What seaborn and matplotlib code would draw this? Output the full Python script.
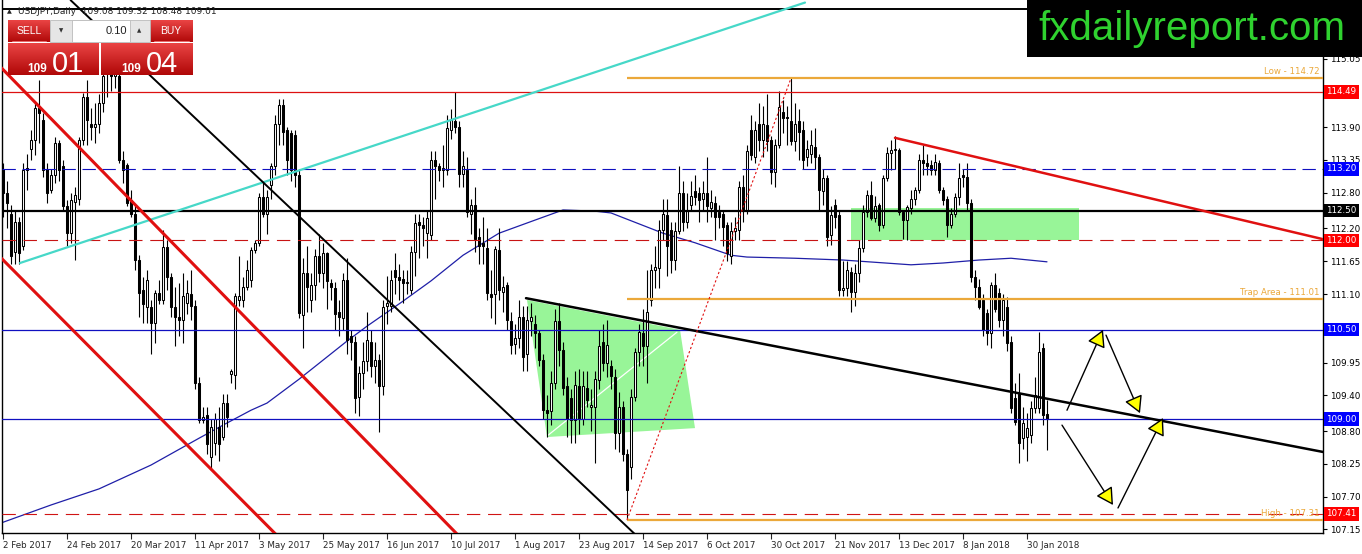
import numpy as np
import matplotlib
matplotlib.use("Agg")
import matplotlib.pyplot as plt
from matplotlib.patches import Rectangle, Polygon
from matplotlib.colors import LinearSegmentedColormap
import seaborn as sns

# ---------------- data (USDJPY daily, bar index 0 = 2 Feb 2017) ----------------
opens = [
    113.2, 112.8, 112.45, 111.8, 112.3, 111.9, 113.22, 113.54, 113.68, 114.22,
    114.02, 113.2, 112.85, 113.1, 113.63, 113.24, 112.57, 112.12, 112.65, 112.7,
    113.68, 114.41, 113.95, 113.9, 113.96, 114.3, 115.0, 114.8, 114.75, 114.75,
    113.35, 113.26, 112.68, 112.45, 111.67, 111.17, 110.89, 110.89, 110.61, 111.11,
    111.0, 111.89, 111.39, 110.89, 110.72, 110.66, 110.95, 111.1, 110.9, 109.6,
    108.99, 109.07, 108.37, 108.6, 108.87, 108.7, 109.27, 109.75, 109.74, 111.0,
    111.0, 111.22, 111.34, 111.84, 111.96, 112.73, 112.45, 112.93, 113.24, 113.96,
    114.27, 113.85, 113.8, 113.77, 113.1, 110.75, 111.45, 111.0, 111.25, 111.73,
    111.45, 111.78, 111.28, 111.2, 110.8, 110.7, 111.33, 110.4, 110.3, 109.38,
    109.77, 109.97, 110.3, 109.9, 110.0, 109.55, 110.9, 110.9, 111.5, 111.39,
    111.36, 111.28, 111.17, 111.81, 112.31, 112.26, 112.12, 112.09, 113.35, 113.24,
    113.18, 113.18, 113.85, 114.0, 113.9, 113.12, 113.18, 112.45, 112.59, 112.06,
    111.95, 111.87, 111.1, 111.1, 111.84, 111.14, 111.25, 110.64, 110.26, 110.36,
    110.72, 110.1, 110.65, 110.6, 110.44, 110.0, 109.15, 109.13, 109.6, 110.64,
    110.16, 109.55, 109.35, 108.99, 109.55, 109.0, 109.52, 109.2, 109.2, 109.66,
    110.3, 109.95, 109.9, 109.7, 108.76, 109.2, 108.42, 108.2, 109.38, 110.13,
    110.44, 110.22, 111.0, 111.5, 111.53, 112.17, 112.42, 112.17, 111.67, 112.15,
    112.8, 112.3, 112.6, 112.83, 112.8, 112.7, 112.8, 112.55, 112.62, 112.48,
    112.45, 112.26, 111.73, 112.15, 112.17, 112.9, 112.5, 113.85, 113.4, 113.95,
    113.68, 113.93, 113.68, 113.15, 113.6, 114.16, 114.07, 114.0, 113.66, 114.0,
    113.85, 113.4, 113.45, 113.57, 113.4, 112.82, 113.04, 112.09, 112.6, 112.43,
    111.17, 111.2, 111.47, 111.14, 111.45, 111.87, 112.48, 112.76, 112.37, 112.6,
    112.26, 113.04, 113.47, 113.52, 113.52, 112.48, 112.34, 112.54, 112.7, 112.84,
    113.35, 113.29, 113.26, 113.18, 113.3, 112.84, 112.7, 112.26, 112.45, 112.73,
    113.1, 113.07, 112.62, 111.39, 111.22, 111.0, 110.78, 110.44, 111.25, 111.11,
    110.66, 110.89, 110.3, 109.35, 109.43, 108.68, 108.7, 108.73, 109.18, 109.18,
    110.19, 109.08,
]
highs = [
    113.3, 113.0, 112.6, 112.51, 112.4, 113.3, 113.45, 113.85, 114.3, 114.69,
    114.13, 113.3, 113.2, 113.74, 113.68, 113.35, 112.68, 112.79, 112.9, 113.74,
    114.47, 114.69, 114.22, 114.3, 114.45, 114.9, 115.5, 115.0, 115.1, 114.9,
    113.5, 113.3, 112.84, 112.6, 111.75, 111.39, 111.5, 111.0, 111.17, 111.34,
    112.18, 112.01, 111.45, 111.22, 111.28, 111.45, 111.34, 111.5, 111.0, 109.7,
    109.21, 109.21, 109.0, 109.1, 109.21, 109.43, 109.43, 109.85, 111.11, 111.73,
    111.39, 111.67, 111.89, 112.01, 112.79, 113.0, 112.85, 113.3, 114.1, 114.37,
    114.37, 113.9, 113.85, 113.85, 113.2, 111.7, 111.9, 111.45, 111.85, 112.1,
    111.95, 111.8, 111.35, 111.3, 111.0, 111.45, 111.7, 110.5, 110.4, 109.9,
    110.3, 110.8, 110.5, 110.3, 110.1, 111.0, 111.4, 111.5, 111.78, 111.6,
    111.5, 111.5, 111.9, 112.45, 112.45, 112.4, 112.5, 113.5, 113.5, 113.3,
    113.6, 114.1, 114.2, 114.49, 114.0, 113.5, 113.4, 112.7, 112.9, 112.2,
    112.4, 112.2, 111.5, 111.9, 112.2, 111.4, 111.3, 110.8, 110.6, 111.0,
    110.9, 110.9, 110.95, 110.75, 110.5, 110.1, 109.4, 109.8, 110.85, 110.95,
    110.3, 109.7, 109.5, 109.8, 109.85, 109.8, 109.8, 109.5, 109.8, 110.5,
    110.6, 110.67, 110.0, 109.85, 109.45, 109.3, 108.5, 109.5, 110.2, 110.6,
    110.85, 111.5, 111.6, 111.9, 112.35, 112.7, 112.7, 112.3, 112.3, 113.25,
    113.0, 112.8, 113.0, 113.1, 112.9, 113.0, 113.4, 112.85, 112.75, 112.6,
    112.5, 112.3, 112.3, 112.4, 113.0, 113.1, 113.6, 114.1, 114.0, 114.3,
    114.25, 114.45, 113.75, 113.7, 114.5, 114.35, 114.25, 114.72, 114.3, 114.2,
    114.0, 113.68, 113.85, 113.88, 113.45, 113.2, 113.1, 112.57, 112.7, 112.5,
    111.65, 111.65, 111.55, 111.6, 112.0, 112.6, 112.85, 113.0, 112.75, 112.62,
    113.1, 113.57, 113.68, 113.75, 113.55, 112.5, 112.6, 112.85, 112.9, 113.45,
    113.6, 113.45, 113.35, 113.45, 113.35, 112.9, 112.75, 112.55, 112.8, 113.3,
    113.2, 113.3, 112.7, 111.5, 111.35, 111.1, 110.85, 111.3, 111.45, 111.2,
    111.1, 111.05, 110.4, 109.6, 109.78, 109.2, 109.1, 109.3, 109.7, 110.47,
    110.27, 109.32,
]
lows = [
    112.4, 112.2, 111.6, 111.6, 111.6, 111.84, 112.84, 113.35, 113.43, 113.63,
    113.07, 112.62, 112.8, 112.96, 113.0, 112.51, 111.9, 111.95, 111.67, 112.6,
    113.6, 113.6, 113.68, 113.63, 113.8, 114.15, 114.4, 114.5, 114.55, 113.3,
    112.96, 112.57, 112.4, 111.5, 110.72, 110.61, 110.61, 110.1, 110.27, 110.94,
    110.94, 111.17, 110.72, 110.22, 110.39, 110.27, 110.77, 110.66, 109.5, 108.93,
    108.93, 108.42, 108.15, 108.4, 108.3, 108.65, 108.87, 109.6, 109.5, 110.9,
    110.89, 111.17, 111.22, 111.78, 111.9, 112.4, 112.1, 112.7, 113.1, 113.6,
    113.6, 113.1, 113.0, 112.9, 110.7, 110.19, 110.8, 110.8, 111.0, 111.3,
    111.2, 110.85, 111.0, 110.5, 110.4, 110.5, 110.1, 110.0, 109.1, 109.05,
    109.5, 109.8, 109.7, 109.6, 108.79, 109.4, 110.6, 110.8, 111.1, 111.0,
    110.95, 111.1, 111.1, 111.4, 111.7, 111.9, 111.7, 112.0, 112.7, 113.0,
    112.9, 113.1, 113.7, 113.8, 112.9, 112.9, 112.4, 112.1, 111.8, 111.6,
    111.6, 111.0, 110.7, 110.6, 111.0, 110.8, 110.5, 110.1, 110.1, 110.2,
    109.8, 109.8, 110.4, 110.2, 109.9, 109.0, 108.7, 108.9, 109.5, 109.9,
    109.4, 108.7, 108.6, 108.6, 108.75, 108.9, 109.2, 108.8, 108.26, 109.5,
    109.8, 109.7, 109.5, 108.5, 108.45, 108.3, 107.31, 108.0, 109.3, 109.9,
    109.9, 109.6, 110.9, 111.2, 111.2, 112.0, 111.4, 111.45, 111.5, 112.1,
    112.15, 112.2, 112.5, 112.6, 112.3, 112.5, 112.3, 112.4, 112.0, 112.2,
    111.9, 111.65, 111.6, 112.0, 112.0, 112.3, 112.45, 113.35, 113.3, 113.5,
    113.4, 113.5, 112.95, 112.9, 113.55, 113.8, 113.6, 113.6, 113.5, 113.35,
    113.2, 113.24, 113.3, 113.2, 112.5, 112.6, 111.9, 111.93, 112.2, 111.06,
    111.06, 111.07, 110.8, 110.9, 111.3, 111.8, 112.4, 112.35, 112.3, 112.15,
    112.2, 113.0, 113.18, 113.2, 112.43, 112.03, 112.0, 112.45, 112.6, 112.8,
    113.1, 113.1, 113.1, 113.1, 112.8, 112.6, 112.06, 112.2, 112.4, 112.6,
    112.9, 112.5, 111.3, 111.0, 110.85, 110.4, 110.25, 110.2, 110.8, 110.55,
    110.4, 110.15, 109.1, 108.9, 108.26, 108.5, 108.3, 108.6, 109.1, 109.1,
    108.9, 108.48,
]
closes = [
    112.8, 112.62, 111.73, 112.3, 111.78, 113.18, 113.18, 113.68, 114.22, 114.13,
    113.18, 112.79, 113.1, 113.63, 113.18, 112.57, 112.12, 112.68, 112.76, 113.68,
    114.41, 114.02, 113.91, 113.96, 114.3, 114.75, 114.8, 114.75, 114.8, 113.35,
    113.18, 112.62, 112.45, 111.67, 111.11, 110.94, 111.34, 110.61, 111.11, 111.0,
    111.89, 111.39, 110.89, 110.72, 110.66, 111.06, 111.11, 110.9, 109.6, 108.99,
    109.04, 108.59, 108.87, 109.0, 108.59, 109.27, 109.04, 109.8, 111.06, 111.06,
    111.22, 111.5, 111.84, 111.96, 112.73, 112.45, 112.72, 113.24, 113.96, 114.27,
    113.82, 113.35, 113.18, 113.1, 110.78, 111.45, 111.22, 111.25, 111.73, 111.45,
    111.78, 111.31, 111.22, 110.77, 110.72, 111.33, 110.33, 110.3, 109.35, 109.77,
    109.97, 110.33, 109.9, 110.0, 109.55, 110.89, 110.95, 111.33, 111.39, 111.33,
    111.28, 111.3, 111.81, 112.29, 112.26, 112.2, 112.37, 113.35, 113.24, 113.18,
    113.21, 113.88, 114.02, 113.9, 113.12, 113.24, 112.48, 112.59, 112.03, 111.9,
    111.9, 111.11, 111.05, 111.86, 111.17, 111.22, 110.66, 110.25, 110.36, 110.72,
    110.05, 110.66, 110.72, 110.44, 110.0, 109.15, 109.1, 109.6, 110.64, 110.16,
    109.52, 109.01, 108.99, 109.57, 109.01, 109.55, 109.32, 109.23, 109.68, 110.22,
    109.95, 110.25, 109.72, 108.76, 109.2, 108.42, 107.81, 109.38, 110.13, 110.46,
    110.22, 110.8, 111.5, 111.56, 112.17, 112.45, 111.9, 111.67, 112.15, 112.8,
    112.3, 112.5, 112.75, 112.73, 112.68, 112.79, 112.57, 112.65, 112.4, 112.4,
    112.23, 111.78, 112.15, 112.2, 112.9, 112.5, 113.5, 113.43, 113.85, 113.68,
    113.96, 113.66, 113.15, 113.6, 114.24, 114.05, 114.05, 113.66, 113.95, 113.82,
    113.35, 113.54, 113.6, 113.4, 112.85, 113.04, 112.06, 112.43, 112.4, 111.17,
    111.2, 111.5, 111.14, 111.45, 111.87, 112.48, 112.76, 112.37, 112.58, 112.26,
    113.04, 113.46, 113.52, 113.53, 112.48, 112.34, 112.56, 112.7, 112.84, 113.35,
    113.29, 113.24, 113.18, 113.32, 112.84, 112.68, 112.26, 112.45, 112.73, 113.04,
    113.07, 112.62, 111.39, 111.22, 110.88, 110.5, 110.44, 111.25, 110.85, 110.66,
    111.0, 110.27, 109.18, 108.95, 108.6, 108.93, 108.85, 109.18, 109.4, 110.13,
    109.07, 109.01,
]

# moving average (bar index, price)
ma_bars = [0, 12, 24, 37, 49, 55, 62, 66, 74, 86, 91, 100, 107, 115, 124, 133, 140,
           148, 152, 165, 173, 182, 186, 198, 210, 227, 235, 244, 252, 261]
ma_prices = [107.27, 107.56, 107.83, 108.23, 108.68, 108.90, 109.15, 109.27, 109.67,
             110.31, 110.56, 110.98, 111.32, 111.75, 112.12, 112.34, 112.51, 112.49,
             112.46, 112.12, 111.96, 111.75, 111.72, 111.70, 111.67, 111.59, 111.62,
             111.67, 111.70, 111.64]

xtick_bars = [0, 16, 32, 48, 64, 80, 96, 112, 128, 144, 160, 176, 192, 208, 224, 240, 256]
xtick_labels = ['2 Feb 2017', '24 Feb 2017', '20 Mar 2017', '11 Apr 2017', '3 May 2017',
                '25 May 2017', '16 Jun 2017', '10 Jul 2017', '1 Aug 2017', '23 Aug 2017',
                '14 Sep 2017', '6 Oct 2017', '30 Oct 2017', '21 Nov 2017', '13 Dec 2017',
                '8 Jan 2018', '30 Jan 2018']
ytick_values = [115.05, 113.90, 113.35, 112.80, 112.20, 111.65, 111.10, 109.95, 109.40,
                108.80, 108.25, 107.70, 107.15]

box_levels = [114.49, 113.20, 112.50, 112.00, 110.50, 109.00, 107.41]
box_colors = ['#ff0000', '#0000ff', '#000000', '#ff0000', '#0000ff', '#0000ff', '#ff0000']

orange_levels = [114.72, 111.01, 107.31]
orange_labels = ['Low - 114.72', 'Trap Area - 111.01', 'High - 107.31']
orange_start_bar = 156

# trend lines (bar index, price)
cyan_bars, cyan_prices = [4.25, 200.5], [111.62, 115.99]
red_ch1_bars, red_ch1_prices = [-5, 115], [115.21, 106.97]
red_ch2_bars, red_ch2_prices = [-5, 75], [112.01, 106.61]
black_down_bars, black_down_prices = [16.9, 159.25], [116.03, 106.99]
wedge_bars, wedge_prices = [130.75, 330], [111.03, 108.45]
red_top_bars, red_top_prices = [223, 330], [113.72, 112.02]
dotted_bars, dotted_prices = [156, 197], [107.31, 114.72]
zone_bars, zone_prices = [131, 169.25, 173, 136], [111.0, 110.5, 108.85, 108.70]
zone_line_bars, zone_line_prices = [136.25, 168.5], [108.73, 110.46]
box_zone_bars, box_zone_prices = [212, 269], [112.0, 112.55]
arrows = [((266, 109.15), (275, 110.50)),
          ((275.75, 110.41), (284.25, 109.10)),
          ((264.75, 108.90), (277.5, 107.56)),
          ((278.75, 107.51), (290, 109.02))]

# ---------------- figure ----------------
sns.set_style("white")
plt.rcParams['font.family'] = ['DejaVu Sans']

W, H = 1362, 554
fig = plt.figure(figsize=(W / 100, H / 100), dpi=100)
fig.patch.set_facecolor('white')
AX_L, AX_R, AX_T, AX_B = 2, 1323, 0, 533
ax = fig.add_axes([AX_L / W, (H - AX_B) / H, (AX_R - AX_L) / W, (AX_B - AX_T) / H])
ax.set_facecolor('white')

# green zones
ax.add_patch(Polygon(list(zip(zone_bars, zone_prices)), closed=True,
                     fc='#98f598', ec='none', zorder=1))
ax.plot(zone_line_bars, zone_line_prices, color='white', lw=0.9, zorder=1.5)
ax.add_patch(Rectangle((box_zone_bars[0], box_zone_prices[0]),
                       box_zone_bars[1] - box_zone_bars[0],
                       box_zone_prices[1] - box_zone_prices[0],
                       fc='#98f598', ec='none', zorder=1))

# moving average
sns.lineplot(x=ma_bars, y=ma_prices, ax=ax, color='#1f1fa8', lw=0.9, zorder=2.5)

# candles
o = np.array(opens); hh = np.array(highs); ll = np.array(lows); c = np.array(closes)
x = np.arange(len(c))
ax.vlines(x, ll, hh, color='black', lw=0.8, zorder=3)
bull = c >= o
bottoms = np.minimum(o, c)
heights = np.maximum(np.abs(c - o), 0.012)
ax.bar(x, heights, bottom=bottoms, width=0.62,
       color=np.where(bull, 'white', 'black'), edgecolor='black', linewidth=0.75, zorder=4)

# horizontal levels
ax.axhline(115.88, color='black', lw=1.4, zorder=5)
ax.axhline(box_levels[0], color='#dd1111', lw=0.9, zorder=5)
ax.axhline(box_levels[1], color='#1010c0', lw=0.8, ls=(0, (12, 6)), zorder=5)
ax.axhline(box_levels[2], color='black', lw=1.6, zorder=5)
ax.axhline(box_levels[3], color='#c81414', lw=0.8, ls=(0, (12, 7)), zorder=5)
ax.axhline(box_levels[4], color='#1010c0', lw=0.9, zorder=5)
ax.axhline(box_levels[5], color='#1010c0', lw=0.9, zorder=5)
ax.axhline(box_levels[6], color='#d01414', lw=0.8, ls=(0, (12, 7)), zorder=5)

orange = '#eba83a'
for lvl, lab in zip(orange_levels, orange_labels):
    ax.hlines(lvl, orange_start_bar, 330, color=orange, lw=1.6, zorder=5)
    ax.text(329.2, lvl + 0.035, lab, ha='right', va='bottom', color=orange,
            fontsize=6.2, zorder=6)

# trend lines
ax.plot(cyan_bars, cyan_prices, color='#46d8c8', lw=1.6, zorder=5)
ax.plot(red_ch1_bars, red_ch1_prices, color='#e01010', lw=2.2, zorder=5)
ax.plot(red_ch2_bars, red_ch2_prices, color='#e01010', lw=2.2, zorder=5)
ax.plot(black_down_bars, black_down_prices, color='black', lw=1.4, zorder=5)
ax.plot(wedge_bars, wedge_prices, color='black', lw=1.8, zorder=5)
ax.plot(red_top_bars, red_top_prices, color='#e01010', lw=1.8, zorder=5)
ax.plot(dotted_bars, dotted_prices, color='#e01010', lw=0.8, ls=(0, (2, 2)), zorder=5)

for start, end in arrows:
    ax.annotate('', xy=end, xytext=start, zorder=7,
                arrowprops=dict(arrowstyle='-|>,head_length=0.9,head_width=0.5',
                                fc='#ffff00', ec='black', lw=1.0,
                                mutation_scale=11.5, shrinkA=0, shrinkB=0))

ax.set_xlim(-0.25, 330)
ax.set_ylim(107.09, 116.033)

# axes / ticks
for s in ['left', 'bottom', 'right']:
    ax.spines[s].set_visible(True)
    ax.spines[s].set_color('black')
    ax.spines[s].set_linewidth(1.0)
ax.spines['top'].set_visible(False)
ax.yaxis.tick_right()
ax.set_yticks(ytick_values)
ax.set_yticklabels([f'{v:.2f}' for v in ytick_values])
ax.tick_params(axis='y', right=True, left=False, length=3, width=0.8,
               labelsize=6.3, pad=2, colors='black', direction='out')
ax.set_xticks(xtick_bars)
ax.set_xticklabels(xtick_labels, ha='left')
ax.tick_params(axis='x', bottom=True, length=4, width=0.8, labelsize=6.3,
               pad=2, direction='out')
ax.set_xlabel('')
ax.set_ylabel('')
ax.grid(False)

for lvl, col in zip(box_levels, box_colors):
    ax.annotate(f'{lvl:.2f}', xy=(1, lvl), xycoords=('axes fraction', 'data'),
                xytext=(2.5, 0), textcoords='offset points', ha='left', va='center',
                color='white', fontsize=6.3, annotation_clip=False, zorder=8,
                bbox=dict(boxstyle='square,pad=0.25', fc=col, ec='none'))

# ---------------- overlay (widget, banner, header) ----------------
wax = fig.add_axes([0, 0, 1, 1], zorder=10)
wax.patch.set_alpha(0)
wax.axis('off')

cmap_red = LinearSegmentedColormap.from_list('r', ['#ea4444', '#b00808'])
grad = np.linspace(0, 1, 64).reshape(-1, 1)

def grad_box(x0, y0, x1, y1):
    wax.imshow(grad, cmap=cmap_red, extent=[x0, x1, y1, y0], aspect='auto',
               interpolation='bilinear', zorder=1)

grad_box(8, 20, 50, 42)
grad_box(150, 20, 193, 42)
grad_box(8, 43, 99, 75)
grad_box(101, 43, 193, 75)
wax.add_patch(Rectangle((50, 20), 100, 22, fc='#e6e6e6', ec='#bbbbbb', lw=0.6, zorder=2))
wax.add_patch(Rectangle((72, 20), 58, 22, fc='white', ec='#bbbbbb', lw=0.6, zorder=3))
wax.plot([12, 46], [41, 41], color='#f08080', lw=0.6, zorder=3)
wax.plot([154, 189], [41, 41], color='#f08080', lw=0.6, zorder=3)
wax.text(29, 31.5, 'SELL', color='white', fontsize=7.5, ha='center', va='center',
         family='Liberation Sans', zorder=4)
wax.text(171, 31.5, 'BUY', color='white', fontsize=7.5, ha='center', va='center',
         family='Liberation Sans', zorder=4)
wax.text(61, 31, '\u25bc', color='#333333', fontsize=4, ha='center', va='center', zorder=4)
wax.text(139, 31, '\u25b2', color='#333333', fontsize=4, ha='center', va='center', zorder=4)
wax.text(127, 31.5, '0.10', color='#222222', fontsize=8, ha='right', va='center',
         family='Liberation Sans', zorder=4)
wax.text(37, 72, '109', color='white', fontsize=8.5, ha='center', va='baseline',
         family='Liberation Sans', fontweight='bold', zorder=4)
wax.text(52, 72.5, '01', color='white', fontsize=21, ha='left', va='baseline',
         family='Liberation Sans', zorder=4)
wax.text(131, 72, '109', color='white', fontsize=8.5, ha='center', va='baseline',
         family='Liberation Sans', fontweight='bold', zorder=4)
wax.text(146, 72.5, '04', color='white', fontsize=21, ha='left', va='baseline',
         family='Liberation Sans', zorder=4)

wax.text(9, 11.5, '\u25b2', color='#222222', fontsize=4.5, ha='center', va='center', zorder=4)
wax.text(18, 11.5, 'USDJPY,Daily  109.08 109.32 108.48 109.01', color='#222222',
         fontsize=6.5, ha='left', va='center', zorder=4)

wax.add_patch(Rectangle((1027, 0), 335, 57, fc='black', ec='none', zorder=5))
wax.text(1192, 29, 'fxdailyreport.com', color='#2fd22f', fontsize=29, ha='center',
         va='center', family='Liberation Sans', zorder=6)

wax.set_xlim(0, W)
wax.set_ylim(H, 0)

fig.savefig('out.png', dpi=100, facecolor='white')
